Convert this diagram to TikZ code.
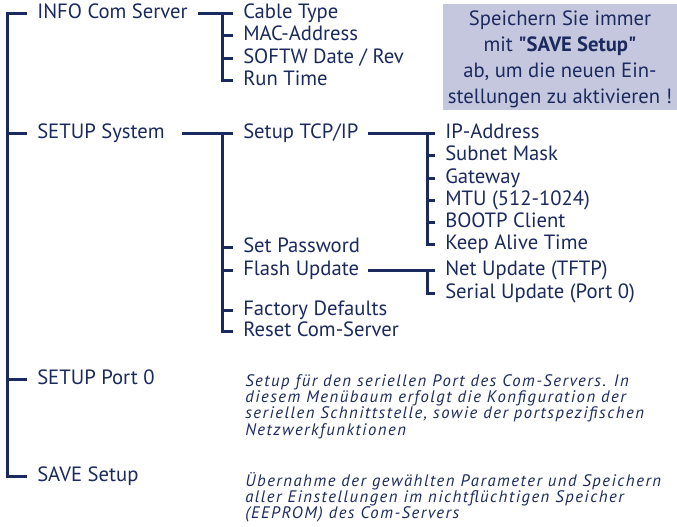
\documentclass[tikz,border=0pt]{standalone}
\usepackage{fontspec}
\setmainfont{PT Sans}
\newfontfamily\remarkfont{PT Sans}[LetterSpace=9]
\usepackage{xcolor}
\usepackage{tikz}
\definecolor{navy}{HTML}{1B2A5E}
\definecolor{notebg}{HTML}{C5C7DE}
\newcommand\remarkstyle{\fontsize{12.5}{12.2}\selectfont\remarkfont\itshape\lineskiplimit=-20pt\relax}
\newcommand\firstline{\rule{0pt}{12pt}}

\begin{document}
\begin{tikzpicture}[x=0.75pt, y=-0.75pt,
    every node/.style={text=navy, font=\fontsize{15.5}{19.5}\selectfont},
    item/.style={anchor=west, inner xsep=7.5pt, inner ysep=0pt, text height=0.75em, text depth=0pt},
    branch/.style={draw=navy, line width=2.25pt},
    remark/.style={anchor=north west, inner sep=0pt, align=left, font=\remarkstyle}]
    \useasboundingbox (0,0) rectangle (677,526);
    \fill[notebg] (443,4) rectangle (677,110);
    \node[align=center] (note) at (560,59) {Speichern Sie immer\\ mit \textbf{\textquotedbl SAVE Setup\textquotedbl}\\ ab, um die neuen Ein-\\ stellungen zu aktivieren !};

    % main menu
    \node[item] (info) at (27,13) {INFO Com Server};
    \node[item] (sys) at (27,133) {SETUP System};
    \node[item] (port) at (27,379) {SETUP Port 0};
    \node[item] (save) at (27,476) {SAVE Setup};
    \coordinate (trunk) at (7,476);
    \draw[branch] (info.west) -| (trunk) -- (save.west);
    \draw[branch] (trunk |- sys.west) -- (sys.west);
    \draw[branch] (trunk |- port.west) -- (port.west);

    % INFO Com Server
    \node[item] (cable) at (233,13) {Cable Type};
    \node[item] (mac) at (233,35) {MAC-Address};
    \node[item] (softw) at (233,58) {SOFTW Date / Rev};
    \node[item] (runtime) at (233,80) {Run Time};
    \coordinate (infobus) at (222,13);
    \draw[branch] (info.east) -- (infobus);
    \foreach \n in {cable,mac,softw,runtime}
        \draw[branch] (infobus) |- (\n.west);

    % SETUP System
    \node[item] (tcp) at (233,133) {Setup TCP/IP};
    \node[item] (passwd) at (233,247) {Set Password};
    \node[item] (flash) at (233,270) {Flash Update};
    \node[item] (factory) at (233,310) {Factory Defaults};
    \node[item] (reset) at (233,331) {Reset Com-Server};
    \coordinate (sysout) at (182,133);
    \coordinate (sysbus) at (222,133);
    \draw[branch] (sysout) -- (sysbus);
    \foreach \n in {tcp,passwd,flash,factory,reset}
        \draw[branch] (sysbus) |- (\n.west);

    % Setup TCP/IP
    \node[item] (ip) at (435,133) {IP-Address};
    \node[item] (subnet) at (435,155) {Subnet Mask};
    \node[item] (gateway) at (435,178) {Gateway};
    \node[item] (mtu) at (435,200) {MTU (512-1024)};
    \node[item] (bootp) at (435,222) {BOOTP Client};
    \node[item] (alive) at (435,244) {Keep Alive Time};
    \coordinate (tcpout) at (368,133);
    \coordinate (tcpbus) at (427,133);
    \draw[branch] (tcpout) -- (tcpbus);
    \foreach \n in {ip,subnet,gateway,mtu,bootp,alive}
        \draw[branch] (tcpbus) |- (\n.west);

    % Flash Update
    \node[item] (net) at (435,270) {Net Update (TFTP)};
    \node[item] (serial) at (435,293) {Serial Update (Port 0)};
    \coordinate (flashout) at (368,270);
    \coordinate (flashbus) at (427,270);
    \draw[branch] (flashout) -- (flashbus);
    \foreach \n in {net,serial}
        \draw[branch] (flashbus) |- (\n.west);

    \node[remark] (portnote) at (245,370) {\firstline Setup für den seriellen Port des Com-Servers. In\\ diesem Menübaum erfolgt die Konfiguration der\\ seriellen Schnittstelle, sowie der portspezifischen\\ Netzwerkfunktionen};
    \node[remark] (savenote) at (245,470) {\firstline Übernahme der gewählten Parameter und Speichern\\ aller Einstellungen im nichtflüchtigen Speicher\\ (EEPROM) des Com-Servers};
\end{tikzpicture}
\end{document}
